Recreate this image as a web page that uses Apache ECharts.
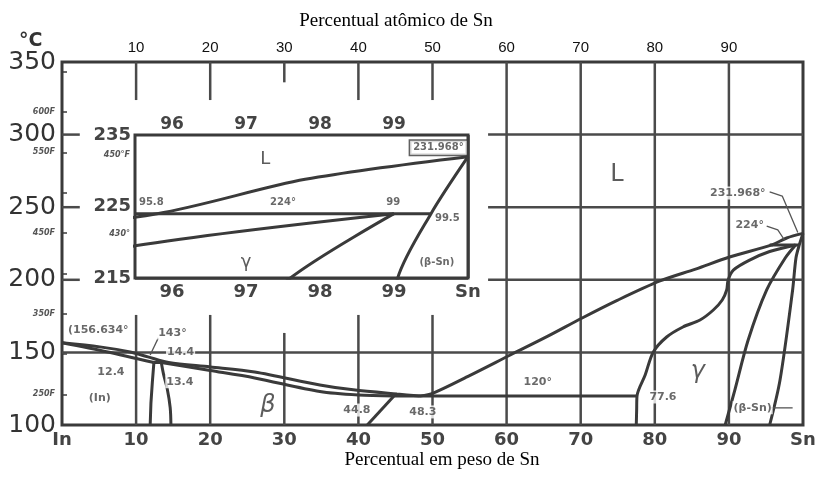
<!DOCTYPE html>
<html>
<head>
<meta charset="utf-8">
<script src="https://cdn.jsdelivr.net/npm/echarts@6/dist/echarts.min.js"></script>
<style>
  html, body { margin: 0; padding: 0; background: #fff; }
  #chart { width: 820px; height: 477px; }
</style>
</head>
<body>
<div id="chart"></div>
<script>
// In–Sn phase diagram: temperature (°C) against weight percent Sn.
// Phase boundaries as [wt% Sn, °C] pairs.
const liquidusIn = [[0,156.634],[5.1,153.8],[9.2,150.3],[11.6,146.9],[14.4,143],[20,140],[26,136.5],[34.8,127.6],[39.3,124.2],[45.2,121.3],[48.3,120]];
const liquidusSn = [[48.3,120],[50.1,122],[55,134],[60.5,148.2],[65.5,161],[70.2,173.7],[75,186],[80.7,199.2],[85.5,207.4],[90.1,215.7],[95.8,224],[97.8,228.8],[100,231.968]];
const inSolidus = [[0,156.634],[6,150.5],[12.4,143]];
const peritectic143 = [[12.4,143],[14.4,143]];
const inSolvus = [[12.4,143],[12.2,130],[12.0,115],[11.9,100]];
const betaLeft = [[13.4,143],[13.7,135],[14.2,125],[14.6,112],[14.7,100]];
const betaSolidus = [[13.4,143],[20,137.5],[26,132.4],[34.8,123],[40,120.6],[44.8,120]];
const betaSolvus = [[44.8,120],[41.2,100]];
const eutectic120 = [[44.8,120],[77.6,120]];
const gammaLeft = [[77.5,100],[77.55,110],[77.6,120],[78.7,134.4],[79.8,150.3],[81.6,160.6],[83.8,167.5],[86.1,172.3],[87.9,179.2],[89.1,186.1],[89.7,193],[89.9,199.9],[90.6,206.7],[92.8,213.6],[95.5,219.5],[99,224]];
const gammaRight = [[89.5,100],[90.8,124],[92.6,158.5],[95.1,193],[97.6,215],[99,224]];
const snLeft = [[95.5,100],[96.9,131],[98.6,193],[99.05,215],[99.5,224],[100,231.968]];
const peritectic224 = [[95.5,224],[99.5,224]];

// Axis ranges and tick values
const tempTicksF = [250,300,350,400,450,500,550,600,650];
const tempLabelsF = [250,350,450,550,600];
const insetTicksF = [420,430,440,450];
const insetLabelsF = [430,450];

// Text annotations: [wt% Sn, °C, text]
const mainNotes = [
  [4.9,165.4,'(156.634°'],[14.9,163.4,'143°'],[16.0,150,'14.4'],[6.6,136.5,'12.4'],
  [15.9,129.8,'13.4'],[5.1,118.6,'(In)'],[39.8,110.3,'44.8'],[48.7,109,'48.3'],
  [64.2,129.6,'120°'],[81.1,119.3,'77.6'],[93.2,111.8,'(β-Sn)'],
  [91.2,259.8,'231.968°'],[92.8,237.7,'224°']
];
const mainGreek = [[27.8,113,'β'],[85.8,136.5,'γ']];
const mainLiquidLabel = [[74.9,272.2,'L']];
const insetNotes = [
  [95.72,225.6,'95.8'],[97.5,225.6,'224°'],[98.99,225.6,'99'],[99.72,223.3,'99.5'],
  [99.58,217.2,'(β-Sn)']
];
const insetGreek = [[97.26,231.6,'L'],[97.0,217.2,'γ']];
const insetBoxNote = [[99.6,233.2,'231.968°']];

// Leader lines from labels to the points they describe
const lead143 = [[13.0,160],[11.9,148.2]];
const lead231 = [[95.5,260.5],[97.2,257.7],[99.3,232.5]];
const lead224 = [[95.1,237],[96.6,234.4],[97.5,227.4]];
const leadBetaSn = [[95.7,111.8],[98.6,111.8]];

const INK = '#3a3a3a';
const GRID_INK = '#4a4a4a';
const LABEL_FONT = 'DejaVu Sans';

function curve(data, inset, smooth) {
  return {
    type: 'line', data: data,
    xAxisIndex: inset ? 2 : 0, yAxisIndex: inset ? 2 : 0,
    smooth: smooth || false,
    symbol: 'none', silent: true, clip: true, z: 4,
    lineStyle: { color: INK, width: 3 }
  };
}
function rule(data, inset, width) {
  return {
    type: 'line', data: data,
    xAxisIndex: inset ? 2 : 0, yAxisIndex: inset ? 2 : 0,
    symbol: 'none', silent: true, clip: false, z: 2,
    lineStyle: { color: GRID_INK, width: width || 2.5 }
  };
}
function notes(list, inset, style) {
  return {
    type: 'scatter', xAxisIndex: inset ? 2 : 0, yAxisIndex: inset ? 2 : 0,
    symbolSize: 1, itemStyle: { color: 'rgba(0,0,0,0)' }, silent: true, z: 6,
    data: list.map(n => ({ value: [n[0], n[1]], name: n[2] })),
    label: Object.assign({
      show: true, position: 'inside', formatter: '{b}', color: '#444',
      fontFamily: LABEL_FONT, fontWeight: 'bold', fontSize: 11
    }, style)
  };
}

const series = [];
// main-diagram rules: top ticks, partial verticals, horizontals and left ticks
[10,20,40,50].forEach(w => {
  series.push(rule([[w,350],[w,323.8]]));
  series.push(rule([[w,100],[w,175.8]]));
});
series.push(rule([[30,350],[30,336]]));
series.push(rule([[30,100],[30,163.4]]));
[60,70,80,90].forEach(w => series.push(rule([[w,100],[w,350]])));
[300,250,200].forEach(t => {
  series.push(rule([[57.5,t],[100,t]]));
  series.push(rule([[0,t],[2.4,t]]));
});
series.push(rule([[0,150],[100,150]]));

// phase boundaries in the full diagram
[
  [liquidusIn,0.3],[liquidusSn,0.3],[inSolidus,0.3],[peritectic143,0],
  [inSolvus,0],[betaLeft,0.3],[betaSolidus,0.3],[betaSolvus,0],
  [eutectic120,0],[gammaLeft,0.3],[gammaRight,0.3],[snLeft,0.3],[peritectic224,0]
].forEach(c => series.push(curve(c[0], false, c[1])));

// enlarged tin-rich corner
[
  [liquidusSn,0.3],[gammaLeft,0.3],[gammaRight,0.3],[snLeft,0.3],[peritectic224,0]
].forEach(c => series.push(curve(c[0], true, c[1])));

// leader lines
[lead143, lead231, lead224, leadBetaSn].forEach(l => {
  const s = rule(l, false, 1.3);
  s.lineStyle.color = '#555';
  s.z = 5;
  series.push(s);
});

series.push(notes(mainNotes, false, { backgroundColor: '#fff', padding: [1,1] }));
series.push(notes(mainGreek, false, { fontSize: 24, fontStyle: 'italic', fontWeight: 'normal', color: '#333', fontFamily: 'DejaVu Sans' }));
series.push(notes(mainLiquidLabel, false, { fontSize: 24, fontWeight: 'normal', color: '#333', fontFamily: 'DejaVu Sans' }));
series.push(notes(insetNotes, true, { backgroundColor: '#fff', padding: [1,1], fontSize: 10 }));
series.push(notes(insetGreek, true, { fontSize: 18, color: '#333', fontWeight: 'normal' }));
series.push(notes(insetBoxNote, true, { backgroundColor: '#fff', borderColor: INK, borderWidth: 1.5, padding: [2,3], fontSize: 10 }));

const tickText = { fontFamily: LABEL_FONT, fontWeight: 'bold', color: '#444' };

const option = {
  animation: false,
  backgroundColor: '#fff',
  title: [
    { text: 'Percentual atômico de Sn', left: 391, top: 7, textAlign: 'center',
      textStyle: { fontFamily: 'Liberation Serif', fontSize: 19, fontWeight: 'normal', color: '#000' } },
    { text: 'Percentual em peso de Sn', left: 437, top: 446, textAlign: 'center',
      textStyle: { fontFamily: 'Liberation Serif', fontSize: 19, fontWeight: 'normal', color: '#000' } },
    { text: '°C', left: 14, top: 27,
      textStyle: { fontFamily: LABEL_FONT, fontSize: 19, fontWeight: 'bold', color: '#333' } }
  ],
  grid: [
    { left: 62, top: 62, width: 741, height: 363, show: true, borderColor: INK, borderWidth: 3, backgroundColor: 'transparent' },
    { left: 135, top: 135, width: 333, height: 143, show: true, borderColor: INK, borderWidth: 3, backgroundColor: '#fff', z: 1 }
  ],
  xAxis: [
    { gridIndex: 0, type: 'value', min: 0, max: 100, interval: 10, position: 'bottom',
      axisLine: { show: false }, axisTick: { show: false }, splitLine: { show: false },
      axisLabel: Object.assign({ fontSize: 18, margin: 6, showMinLabel: true, showMaxLabel: true,
        formatter: v => v === 0 ? 'In' : (v === 100 ? 'Sn' : String(v)) }, tickText) },
    { gridIndex: 0, type: 'value', min: 0, max: 100, interval: 10, position: 'top',
      axisLine: { show: false }, axisTick: { show: false }, splitLine: { show: false },
      axisLabel: { fontSize: 15, margin: 7, color: '#111', fontFamily: 'Liberation Sans',
        formatter: v => (v === 0 || v === 100) ? '' : String(v) } },
    { gridIndex: 1, type: 'value', min: 95.5, max: 100, interval: 0.5, position: 'bottom',
      axisLine: { show: false }, axisTick: { show: false },
      splitLine: { show: true, lineStyle: { color: GRID_INK, width: 2.5 } },
      axisLabel: Object.assign({ fontSize: 18, margin: 5, showMaxLabel: true,
        formatter: v => Math.abs(v - Math.round(v)) > 1e-6 ? '' : (v >= 100 ? 'Sn' : String(Math.round(v))) }, tickText) },
    { gridIndex: 1, type: 'value', min: 95.5, max: 100, interval: 0.5, position: 'top',
      axisLine: { show: false }, axisTick: { show: false }, splitLine: { show: false },
      axisLabel: Object.assign({ fontSize: 17, margin: 2,
        formatter: v => (Math.abs(v - Math.round(v)) > 1e-6 || v >= 100) ? '' : String(Math.round(v)) }, tickText) }
  ],
  yAxis: [
    { gridIndex: 0, type: 'value', min: 100, max: 350, interval: 50,
      axisLine: { show: false }, axisTick: { show: false }, splitLine: { show: false },
      axisLabel: Object.assign({ fontSize: 25, margin: 6, showMinLabel: true, showMaxLabel: true }, tickText, { fontWeight: 'normal', color: '#333' }) },
    { gridIndex: 0, type: 'value', min: 212, max: 662, position: 'left',
      axisLine: { show: false }, splitLine: { show: false },
      axisTick: { show: true, inside: true, length: 5, customValues: tempTicksF, lineStyle: { color: INK, width: 1.5 } },
      axisLabel: { customValues: tempLabelsF, formatter: v => v + 'F', fontSize: 8, fontStyle: 'italic', fontWeight: 'bold', color: '#555', margin: 7, fontFamily: LABEL_FONT } },
    { gridIndex: 1, type: 'value', min: 215, max: 235, interval: 5,
      axisLine: { show: false }, axisTick: { show: false },
      splitLine: { show: true, lineStyle: { color: GRID_INK, width: 2.5 } },
      axisLabel: Object.assign({ fontSize: 18, margin: 4,
        formatter: v => (v === 220 || v === 230) ? '' : String(v) }, tickText) },
    { gridIndex: 1, type: 'value', min: 419, max: 455, position: 'left',
      axisLine: { show: false }, splitLine: { show: false },
      axisTick: { show: true, inside: true, length: 5, customValues: insetTicksF, lineStyle: { color: INK, width: 1.5 } },
      axisLabel: { customValues: insetLabelsF, formatter: v => v === 450 ? '450°F' : v + '°', fontSize: 8, fontStyle: 'italic', fontWeight: 'bold', color: '#555', margin: 5, fontFamily: LABEL_FONT } }
  ],
  series: series
};

const chart = echarts.init(document.getElementById('chart'));
chart.setOption(option);
</script>
</body>
</html>
